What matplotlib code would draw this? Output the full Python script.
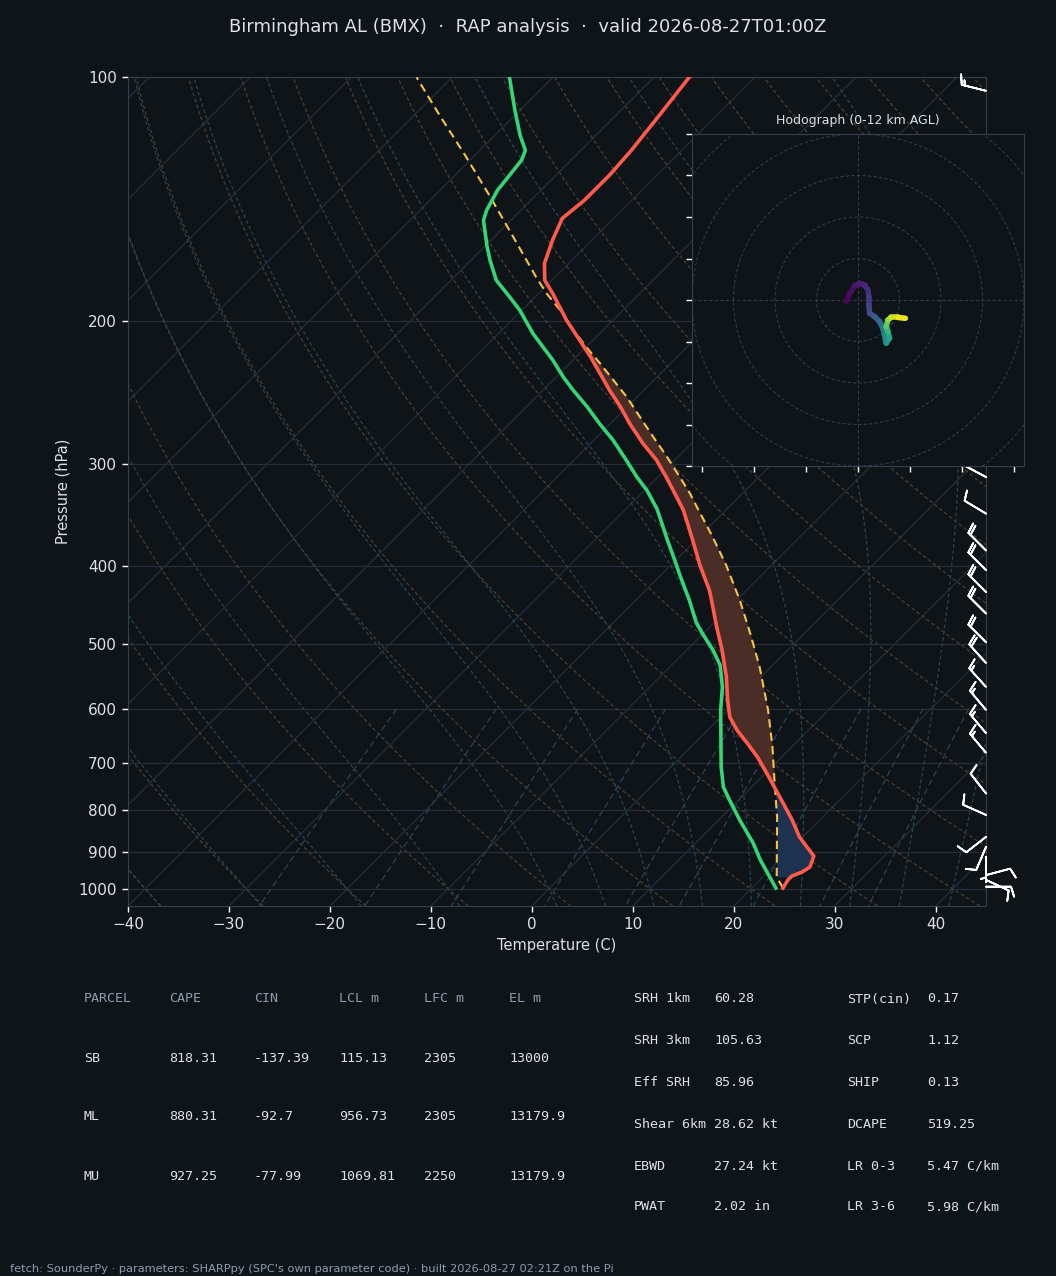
"""
Skew-T 探空图（Birmingham AL, RAP 分析场）
温度 / 露点 / 气块曲线 + 风羽 + 风矢端图 + 参数表
"""
import numpy as np
import matplotlib
matplotlib.use("Agg")
import matplotlib.pyplot as plt
import matplotlib.transforms as mtransforms
from matplotlib.collections import LineCollection
from matplotlib.patches import Circle

# ============================================================
# 数据
# ============================================================
# 环境温度廓线 (hPa, °C)
P_TEMP = [997.8, 975.6, 964.6, 953.7, 940.3, 911.4, 890.9, 863.6, 823.0, 784.1,
          751.4, 720.1, 688.2, 661.4, 637.5, 614.4, 585.5, 548.5, 508.1, 476.1,
          440.9, 428.6, 399.4, 372.0, 341.6, 328.9, 310.9, 296.5, 282.8, 267.2,
          254.7, 243.1, 231.8, 221.1, 211.0, 199.3, 184.8, 178.0, 169.7, 158.9,
          149.3, 141.8, 132.1, 123.1, 111.4, 100.1]
T_TEMP = [23.1, 22.8, 22.8, 23.4, 23.7, 23.0, 21.6, 19.7, 17.3, 14.7,
          12.4, 10.1, 7.6, 5.2, 2.9, 0.9, -1.0, -3.4, -6.5, -9.3,
          -12.5, -13.7, -17.1, -20.3, -24.2, -26.2, -29.2, -31.8, -34.8, -38.1,
          -40.7, -43.4, -46.0, -48.6, -51.3, -54.6, -58.6, -60.7, -62.4, -63.9,
          -65.1, -64.7, -64.7, -65.0, -65.7, -66.5]

# 露点廓线
P_DEW = [997.8, 956.4, 921.8, 878.4, 823.0, 777.5, 749.3, 708.0, 661.4, 602.3,
         564.3, 530.3, 508.1, 489.8, 470.8, 440.9, 410.8, 393.7, 372.0,
         349.5, 340.0, 322.8, 310.9, 296.5, 280.1, 267.2, 254.7, 243.1, 234.1,
         223.2, 207.0, 193.8, 186.7, 178.0, 168.2, 161.2, 150.2, 145.9, 137.9,
         132.1, 126.6, 123.1, 118.0, 109.9, 100.1]
TD_DEW = [22.4, 20.1, 18.1, 15.7, 12.1, 9.1, 7.2, 5.0, 2.6, -0.7,
          -2.8, -5.2, -7.4, -9.5, -11.7, -14.7, -18.1, -20.1, -22.8,
          -25.7, -27.0, -29.8, -32.1, -34.8, -38.1, -41.1, -44.0, -47.0, -49.3,
          -52.0, -56.6, -60.2, -62.5, -65.5, -68.1, -69.9, -72.7, -73.4, -74.3,
          -74.6, -74.9, -75.5, -77.5, -80.5, -84.3]

# 地面气块上升曲线
P_PARCEL = [997.8, 967.3, 816.0, 749.3, 669.0, 602.3, 533.1, 484.2, 440.9, 399.4,
            366.8, 338.4, 325.8, 310.9, 293.7, 277.5, 262.2, 247.7, 236.3, 225.3,
            215.0, 205.1, 193.8, 184.8, 176.3, 156.6, 139.9, 124.8, 111.4,
            100.1]
T_PARCEL = [23.1, 21.4, 15.5, 12.3, 8.1, 4.0, -1.1, -5.4, -9.7, -14.5,
            -18.9, -23.2, -25.2, -27.85, -31.1, -34.45, -37.75, -41.05, -44.0, -47.0,
            -50.0, -52.9, -56.2, -59.2, -61.9, -68.4, -74.6, -81.0, -87.5,
            -93.5]

# 风羽（气压 hPa, 风向 °, 风速 kt）
BARB_P = [104, 311, 345, 383, 405, 431, 458, 497, 527, 564, 602, 643, 680,
          763, 811, 863, 888, 914, 962, 975, 994]
BARB_DIR = [284, 298, 301, 315, 315, 315, 315, 315, 318, 318, 320, 320, 320,
            322, 294, 232, 203, 180, 75, 115, 90]
BARB_SPD = [15, 10, 10, 20, 20, 20, 20, 20, 20, 15, 15, 15, 15,
            10, 10, 10, 10, 5, 10, 10, 10]

# 风矢端图 (u, v) 与高度 km
HODO_U = [-2.8, -2.0, -0.8, 0.4, 1.6, 2.4, 2.6, 2.6, 2.8, 4.0, 5.2,
          6.0, 6.4, 6.8, 7.6, 7.2, 6.8, 7.2, 8.0, 9.6, 11.4]
HODO_V = [-0.4, 1.6, 3.4, 4.0, 3.6, 2.4, 0.8, -1.2, -3.2, -4.0, -5.2,
          -6.8, -8.4, -10.4, -9.2, -7.6, -6.4, -4.8, -4.2, -4.2, -4.4]
HODO_Z = [0.0, 0.3, 0.6, 0.9, 1.2, 1.5, 1.8, 2.2, 2.6, 3.2, 3.9,
          4.6, 5.3, 6.0, 6.8, 7.6, 8.5, 9.5, 10.6, 11.4, 12.0]

# 参数表
PARCEL_NAMES = ["SB", "ML", "MU"]
PARCEL_CAPE = [818.31, 880.31, 927.25]
PARCEL_CIN = [-137.39, -92.7, -77.99]
PARCEL_LCL = [115.13, 956.73, 1069.81]
PARCEL_LFC = [2305, 2305, 2250]
PARCEL_EL = [13000, 13179.9, 13179.9]
PARCEL_HEAD = ["PARCEL", "CAPE", "CIN", "LCL m", "LFC m", "EL m"]

KIN_NAMES = ["SRH 1km", "SRH 3km", "Eff SRH", "Shear 6km", "EBWD", "PWAT"]
KIN_VALUES = ["60.28", "105.63", "85.96", "28.62 kt", "27.24 kt", "2.02 in"]
IDX_NAMES = ["STP(cin)", "SCP", "SHIP", "DCAPE", "LR 0-3", "LR 3-6"]
IDX_VALUES = ["0.17", "1.12", "0.13", "519.25", "5.47 C/km", "5.98 C/km"]

TITLE = "Birmingham AL (BMX)  \u00b7  RAP analysis  \u00b7  valid 2026-08-27T01:00Z"
FOOTER = ("fetch: SounderPy \u00b7 parameters: SHARPpy (SPC's own parameter code)"
          " \u00b7 built 2026-08-27 02:21Z on the Pi")

# ============================================================
# 样式
# ============================================================
BG = "#0f1419"
TXT = "#dde1e5"
HEAD = "#8c9db0"
SPINE = "#35404c"
GRID = "#252e38"
W, H = 1056, 1276

P_BOT, P_TOP = 1050.0, 100.0
T_MIN, T_MAX = -40.0, 45.0
AX_PX = (128, 77, 986, 906)  # 左 上 右 下

# 45° 斜温：每个对数十倍气压对应的温度偏移
ax_w = AX_PX[2] - AX_PX[0]
ax_h = AX_PX[3] - AX_PX[1]
K = (ax_h / np.log10(P_BOT / P_TOP)) / (ax_w / (T_MAX - T_MIN))


def skew(t, p):
    return np.asarray(t) + K * np.log10(P_BOT / np.asarray(p))


fig = plt.figure(figsize=(W / 100, H / 100), dpi=100, facecolor=BG)
ax = fig.add_axes([AX_PX[0] / W, 1 - AX_PX[3] / H, ax_w / W, ax_h / H])
ax.set_facecolor(BG)
ax.set_yscale("log")
ax.set_ylim(P_BOT, P_TOP)
ax.set_xlim(T_MIN, T_MAX)

# ----- 背景线 -----
p_line = np.geomspace(P_BOT, P_TOP, 200)
for t in np.arange(-160, 50, 10):
    ax.plot(skew([t, t], [P_BOT, P_TOP]), [P_BOT, P_TOP], color=GRID, lw=0.9, zorder=1)
for p in range(100, 1001, 100):
    ax.axhline(p, color=GRID, lw=0.9, zorder=1)

# 干绝热线
RD, CP, LV, EPS = 287.04749, 1004.6662, 2.50084e6, 0.6219569
for t0 in np.arange(-40, 200, 10):
    tk = (t0 + 273.15) * (p_line / 1000.0) ** (RD / CP) - 273.15
    ax.plot(skew(tk, p_line), p_line, color="#4c3c30", lw=0.9, ls=(0, (3, 2)), zorder=1)


# 湿绝热线（RK4 积分）
def dtdlnp(t, p):
    es = 6.112 * np.exp(17.67 * (t - 273.15) / (t - 29.65))
    rs = EPS * es / (p - es)
    return (RD * t + LV * rs) / (CP + LV * LV * rs * EPS / (RD * t * t))


def moist_profile(t0c, p_end, n=300):
    lnp = np.linspace(np.log(1000.0), np.log(p_end), n)
    t = np.array(t0c, dtype=float) + 273.15
    out = [t.copy()]
    for i in range(n - 1):
        h = lnp[i + 1] - lnp[i]
        p0 = np.exp(lnp[i])
        pm = np.exp(lnp[i] + h / 2)
        p1 = np.exp(lnp[i + 1])
        k1 = dtdlnp(t, p0)
        k2 = dtdlnp(t + h * k1 / 2, pm)
        k3 = dtdlnp(t + h * k2 / 2, pm)
        k4 = dtdlnp(t + h * k3, p1)
        t = t + h * (k1 + 2 * k2 + 2 * k3 + k4) / 6
        out.append(t.copy())
    return np.exp(lnp), np.array(out) - 273.15


moist_t0 = np.concatenate((np.arange(-40, 0, 10), np.arange(0, 46, 5)))
pu, tu = moist_profile(moist_t0, P_TOP)
pd, td = moist_profile(moist_t0, P_BOT, n=20)
for i in range(len(moist_t0)):
    pp = np.concatenate((pd[::-1], pu[1:]))
    tt = np.concatenate((td[::-1, i], tu[1:, i]))
    ax.plot(skew(tt, pp), pp, color="#274450", lw=0.9, ls=(0, (3, 2)), zorder=1)

# 混合比线
p_mix = np.linspace(600, P_BOT, 50)
for w in [0.0004, 0.001, 0.002, 0.004, 0.007, 0.01, 0.016, 0.024, 0.032]:
    e = p_mix * w / (EPS + w)
    lg = np.log(e / 6.112)
    tdw = 243.5 * lg / (17.67 - lg)
    ax.plot(skew(tdw, p_mix), p_mix, color="#2c4256", lw=0.9, ls=(0, (5, 3)), zorder=1)

# ----- CAPE / CIN 阴影 -----
pg = np.geomspace(P_TEMP[0], 120, 800)
env_g = np.interp(np.log(pg[::-1]), np.log(P_TEMP[::-1]), T_TEMP[::-1])[::-1]
par_g = np.interp(np.log(pg[::-1]), np.log(P_PARCEL[::-1]), T_PARCEL[::-1])[::-1]
ax.fill_betweenx(pg, skew(env_g, pg), skew(par_g, pg), where=par_g > env_g,
                 color="#4b2d27", lw=0, interpolate=True, zorder=2)
cin_mask = (par_g < env_g) & (pg > 700) & (pg <= P_PARCEL[1])
ax.fill_betweenx(pg, skew(env_g, pg), skew(par_g, pg), where=cin_mask,
                 color="#1d3150", lw=0, interpolate=True, zorder=2)

# ----- 廓线 -----
ax.plot(skew(T_PARCEL, P_PARCEL), P_PARCEL, color="#f4c449", lw=1.5,
        ls=(0, (4, 2.5)), zorder=4)
ax.plot(skew(T_TEMP, P_TEMP), P_TEMP, color="#ff5a4b", lw=2.6, zorder=5)
ax.plot(skew(TD_DEW, P_DEW), P_DEW, color="#35d475", lw=2.6, zorder=5)

# ----- 风羽（贴右边框）-----
spd = np.array(BARB_SPD, dtype=float)
rad = np.deg2rad(BARB_DIR)
bu = -spd * np.sin(rad)
bv = -spd * np.cos(rad)
trans = mtransforms.blended_transform_factory(ax.transAxes, ax.transData)
ax.barbs(np.ones(len(BARB_P)), BARB_P, bu, bv, transform=trans, length=6,
         color="white", linewidth=1.3, clip_on=False, zorder=6)

# ----- 坐标轴 -----
ax.set_yticks(range(100, 1001, 100))
ax.set_yticklabels([str(p) for p in range(100, 1001, 100)])
ax.yaxis.set_minor_locator(matplotlib.ticker.NullLocator())
ax.set_xticks(range(-40, 41, 10))
ax.tick_params(colors="white", labelcolor=TXT, labelsize=11, length=4.5, width=1)
for s in ax.spines.values():
    s.set_color(SPINE)
ax.set_xlabel("Temperature (C)", color=TXT, fontsize=10.5, labelpad=4)
ax.set_ylabel("Pressure (hPa)", color=TXT, fontsize=10.5, labelpad=6)

fig.text(0.5, 1 - 27 / H, TITLE, ha="center", va="center", fontsize=13, color=TXT)

# ============================================================
# 风矢端图
# ============================================================
hx0, hy0, hx1, hy1 = 692, 134, 1024, 466
hax = fig.add_axes([hx0 / W, 1 - hy1 / H, (hx1 - hx0) / W, (hy1 - hy0) / H])
hax.set_facecolor(BG)
hax.set_xlim(-40, 40)
hax.set_ylim(-40, 40)
for r in range(10, 70, 10):
    hax.add_patch(Circle((0, 0), r, fill=False, ls=(0, (3, 2)), lw=0.8, color="#2d3b4b"))
hax.axhline(0, color="#2d3b4b", lw=0.8, ls=(0, (3, 2)))
hax.axvline(0, color="#2d3b4b", lw=0.8, ls=(0, (3, 2)))
pts = np.column_stack([HODO_U, HODO_V]).reshape(-1, 1, 2)
segs = np.concatenate([pts[:-1], pts[1:]], axis=1)
zmid = (np.array(HODO_Z[:-1]) + np.array(HODO_Z[1:])) / 2
lc = LineCollection(segs, cmap="viridis", norm=plt.Normalize(0, 12), lw=4,
                    capstyle="round", joinstyle="round")
lc.set_array(zmid)
hax.add_collection(lc)
hax.set_xticks(np.arange(-37.5, 40, 12.5))
hax.set_yticks(range(-40, 41, 10))
hax.tick_params(color="white", labelleft=False, labelbottom=False, length=4, width=1)
for s in hax.spines.values():
    s.set_color(SPINE)
hax.set_title("Hodograph (0-12 km AGL)", fontsize=9, color=TXT, pad=7)

# ============================================================
# 参数表
# ============================================================
MONO = "DejaVu Sans Mono"
col_x = [84, 169, 254, 339, 424, 509]
for j, h in enumerate(PARCEL_HEAD):
    fig.text(col_x[j] / W, 1 - 999 / H, h, family=MONO, fontsize=9.6, color=HEAD, va="center")
for i, name in enumerate(PARCEL_NAMES):
    y = 1 - (1058 + 59 * i) / H
    vals = [name, PARCEL_CAPE[i], PARCEL_CIN[i], PARCEL_LCL[i], PARCEL_LFC[i], PARCEL_EL[i]]
    for j, v in enumerate(vals):
        s = v if isinstance(v, str) else f"{v:g}"
        fig.text(col_x[j] / W, y, s, family=MONO, fontsize=9.6, color=TXT, va="center")

row_y = [999, 1041, 1083, 1124, 1166, 1207]
for i in range(6):
    y = 1 - row_y[i] / H
    fig.text(634 / W, y, KIN_NAMES[i], family=MONO, fontsize=9.6, color=TXT, va="center")
    fig.text(714 / W, y, KIN_VALUES[i], family=MONO, fontsize=9.6, color=TXT, va="center")
    fig.text(847 / W, y, IDX_NAMES[i], family=MONO, fontsize=9.6, color=TXT, va="center")
    fig.text(927 / W, y, IDX_VALUES[i], family=MONO, fontsize=9.6, color=TXT, va="center")

fig.text(10 / W, 1 - 1269 / H, FOOTER, fontsize=8.2, color=HEAD, va="center")

fig.savefig("out.png", dpi=100, facecolor=BG)
